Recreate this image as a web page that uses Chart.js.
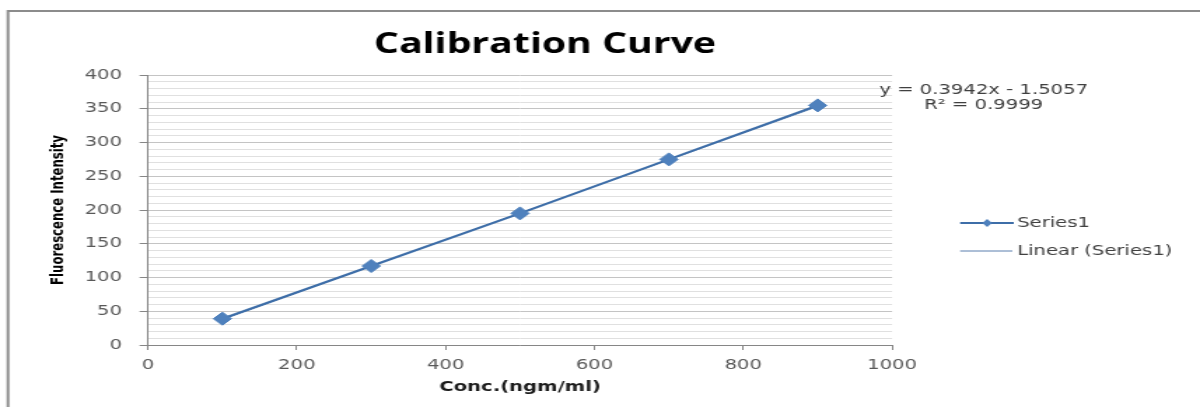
<!DOCTYPE html>
<html><head><meta charset="utf-8">
<script src="https://cdn.jsdelivr.net/npm/chart.js@4.4.0/dist/chart.umd.min.js"></script>
<style>
html,body{margin:0;padding:0;background:#fff;overflow:hidden;width:1200px;height:407px}
#wrap{width:857px;height:407px;transform:scaleX(1.40023);transform-origin:0 0;}
canvas{display:block}
</style></head><body>
<div id="wrap"><canvas id="c" width="857" height="407"></canvas></div>
<script>
const chartTitle = 'Calibration Curve';
const xAxisTitle = 'Conc.(ngm/ml)';
const yAxisTitle = 'Fluorescence Intensity';
const seriesName = 'Series1';
const trendName = 'Linear (Series1)';
const concentrations = [100, 300, 500, 700, 900];
const intensities = [39, 117, 195, 275, 355];
const trendX = [100, 900];
const trendY = [37.9, 353.3];
const equationLines = ['y = 0.3942x - 1.5057', 'R\u00B2 = 0.9999'];
const xTickValues = [0, 200, 400, 600, 800, 1000];
const yTickValues = [0, 50, 100, 150, 200, 250, 300, 350, 400];
const yMinorStep = 10;

const blue = '#3e6ea8';
const markerBlue = '#4f81bd';

const decor = {
  id: 'decor',
  beforeDraw(chart) {
    const c = chart.ctx; c.save();
    c.fillStyle = '#fff'; c.fillRect(0, 0, chart.width, chart.height);
    c.restore();
  },
  afterDraw(chart) {
    const c = chart.ctx; c.save();
    // outer frame
    c.strokeStyle = '#8c8c8c'; c.lineWidth = 2;
    c.beginPath(); c.moveTo(5.7, 430); c.lineTo(5.7, 11); c.lineTo(900, 11); c.stroke();
    // title
    c.fillStyle = '#000'; c.font = 'bold 28px "Open Sans", sans-serif';
    c.textAlign = 'center'; c.textBaseline = 'middle';
    c.fillText(chartTitle, 389.2, 45);
    // equation
    c.fillStyle = '#404040'; c.font = '14px "DejaVu Sans", sans-serif';
    c.fillText(equationLines[0], 702.5, 90);
    c.fillText(equationLines[1], 702.5, 105);
    // legend
    c.textAlign = 'left';
    c.strokeStyle = blue; c.lineWidth = 2;
    c.beginPath(); c.moveTo(685.7, 223); c.lineTo(724, 223); c.stroke();
    c.fillStyle = markerBlue;
    c.beginPath(); c.moveTo(705, 219); c.lineTo(708.5, 223); c.lineTo(705, 227); c.lineTo(701.5, 223); c.closePath(); c.fill();
    c.strokeStyle = '#5a7fae'; c.lineWidth = 1;
    c.beginPath(); c.moveTo(685.7, 251); c.lineTo(723, 251); c.stroke();
    c.fillStyle = '#404040';
    c.fillText(seriesName, 726.4, 223);
    c.fillText(trendName, 726.4, 251);
    c.restore();
  }
};

new Chart(document.getElementById('c'), {
  type: 'scatter',
  data: {
    datasets: [
      {
        label: trendName,
        data: trendX.map((x, i) => ({x, y: trendY[i]})),
        showLine: true, borderColor: '#5a7fae', borderWidth: 1,
        pointRadius: 0, pointHoverRadius: 0, order: 2
      },
      {
        label: seriesName,
        data: concentrations.map((x, i) => ({x, y: intensities[i]})),
        showLine: true, borderColor: blue, borderWidth: 2.2,
        pointStyle: 'rectRot', pointRadius: 6.5, pointBackgroundColor: markerBlue,
        pointBorderColor: markerBlue, pointBorderWidth: 1, order: 1
      }
    ]
  },
  options: {
    responsive: false, animation: false, devicePixelRatio: 1,
    layout: { padding: { left: 6, right: 219.9, top: 75, bottom: 0 } },
    plugins: { legend: { display: false }, title: { display: false }, tooltip: { enabled: false } },
    scales: {
      x: {
        type: 'linear', min: 0, max: 1000,
        afterBuildTicks(s) { s.ticks = xTickValues.map(v => ({value: v})); },
        afterFit(s) { s.height = 62; },
        border: { display: true, color: '#868686', width: 1 },
        grid: { drawOnChartArea: false, drawTicks: true, tickLength: 5, tickColor: '#868686' },
        ticks: { color: '#595959', font: { family: '"DejaVu Sans", sans-serif', size: 14 }, padding: 7, maxRotation: 0,
          callback: v => String(v) },
        title: { display: true, text: xAxisTitle, color: '#1a1a1a',
          font: { family: '"DejaVu Sans", sans-serif', size: 14, weight: 'bold' }, padding: { top: 0, bottom: 11 } }
      },
      y: {
        type: 'linear', min: 0, max: 400,
        afterFit(s) { s.width = 99.7; },
        border: { display: true, color: '#868686', width: 1 },
        grid: {
          drawTicks: true, tickLength: 6,
          color: ctx => (yTickValues.includes(ctx.tick.value) ? '#c4c4c4' : '#e0e0e0'),
          tickColor: ctx => (yTickValues.includes(ctx.tick.value) ? '#868686' : 'rgba(0,0,0,0)')
        },
        ticks: {
          stepSize: yMinorStep, autoSkip: false, color: '#595959',
          font: { family: '"DejaVu Sans", sans-serif', size: 14 }, padding: 12.6,
          callback: v => (yTickValues.includes(v) ? String(v) : '')
        },
        title: { display: true, text: yAxisTitle, color: '#000',
          font: { family: '"Liberation Sans Narrow", "DejaVu Sans Condensed", sans-serif', size: 13, weight: 'bold' },
          padding: { top: 27.5, bottom: 0 } }
      }
    }
  },
  plugins: [decor]
});
</script>
</body></html>
